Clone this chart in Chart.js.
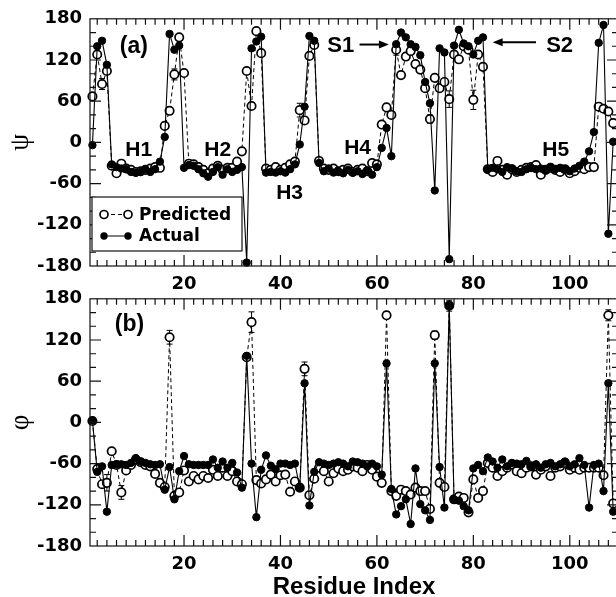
<!DOCTYPE html>
<html><head><meta charset="utf-8">
<script src="https://cdn.jsdelivr.net/npm/chart.js@4.4.0/dist/chart.umd.min.js"></script>
<style>
html,body{margin:0;padding:0;background:#fff;overflow:hidden;width:616px;height:597px;position:relative;}
canvas{position:absolute;left:0;}
#ca{top:0;}
#cb{top:280px;}
</style></head><body>
<canvas id="ca" width="640" height="300"></canvas>
<canvas id="cb" width="640" height="330"></canvas>
<script>
const residues = [1,2,3,4,5,6,7,8,9,10,11,12,13,14,15,16,17,18,19,20,
 21,22,23,24,25,26,27,28,29,30,31,32,33,34,35,36,37,38,39,40,
 41,42,43,44,45,46,47,48,49,50,51,52,53,54,55,56,57,58,59,60,
 61,62,63,64,65,66,67,68,69,70,71,72,73,74,75,76,77,78,79,80,
 81,82,83,84,85,86,87,88,89,90,91,92,93,94,95,96,97,98,99,100,
 101,102,103,104,105,106,107,108,109];

const psiActual = [-4,140,148,113,-32,-36,-38,-39,-43,-44,
 -43,-39,-43,-39,-28,8,158,135,141,-37,
 -33,-34,-39,-45,-50,-43,-36,-47,-39,-43,
 -40,-36,-175,137,147,154,-44,-43,-44,-42,
 -44,-39,-32,-3,52,155,148,-30,-42,-38,
 -44,-42,-45,-40,-44,-42,-46,-41,-47,-36,
 -8,21,-20,143,160,153,143,139,127,88,
 57,-70,137,131,-170,141,164,144,140,128,
 148,153,-39,-37,-39,-43,-36,-38,-42,-43,
 -39,-37,-39,-38,-40,-36,-39,-37,-39,-42,
 -38,-34,-28,-13,15,145,171,-133,1];

const psiPredicted = [67,128,85,104,-34,-45,-31,-38,-40,-43,
 -42,-40,-38,-36,-37,24,46,99,153,101,
 -31,-32,-36,-40,-45,-38,-34,-40,-37,-37,
 -28,-13,104,53,162,130,-38,-40,-36,-40,
 -37,-32,-28,47,32,126,142,-27,-38,-40,
 -38,-42,-40,-38,-43,-40,-38,-42,-30,-32,
 26,51,40,135,98,125,133,114,106,79,
 34,94,79,88,63,128,121,140,135,62,
 128,110,-39,-43,-27,-40,-47,-39,-43,-40,
 -37,-36,-33,-47,-40,-37,-40,-43,-39,-45,
 -42,-37,-39,-36,-36,52,49,45,28];

const phiActual = [3,-72,-64,-130,-62,-61,-61,-62,-59,-52,
 -57,-59,-61,-62,-61,-98,-65,-112,-71,-49,
 -61,-62,-62,-62,-62,-54,-66,-57,-66,-59,
 -73,-95,97,-60,-138,-69,-48,-63,-68,-60,
 -60,-62,-60,-95,57,-121,-72,-58,-60,-62,
 -60,-58,-60,-64,-57,-58,-60,-64,-60,-64,
 -76,86,-97,-134,-122,-112,-148,-67,-119,-128,
 -142,86,-65,-124,170,-112,-114,-122,-128,-67,
 -62,-71,-51,-57,-66,-54,-64,-59,-60,-61,
 -56,-64,-61,-66,-61,-59,-64,-61,-57,-64,
 -61,-52,-62,-124,-62,-60,-100,57,-130];

const phiPredicted = [2,-68,-90,-88,-42,-62,-102,-70,-62,-54,
 -58,-62,-64,-75,-88,-94,124,-107,-102,-70,
 -86,-78,-83,-78,-81,-69,-78,-66,-78,-71,
 -86,-90,95,146,-84,-89,-83,-76,-86,-77,
 -76,-101,-86,-95,78,-106,-82,-66,-71,-86,
 -74,-67,-71,-69,-64,-66,-71,-62,-69,-79,
 -88,156,-100,-107,-98,-100,-105,-95,-100,-100,
 -126,127,-88,-94,170,-112,-108,-110,-131,-83,
 -110,-100,-59,-66,-78,-71,-66,-61,-71,-74,
 -66,-64,-76,-69,-64,-78,-66,-64,-59,-69,
 -66,-69,-66,-66,-66,-66,-77,156,-118];

// error bars on predicted values (residue, +/- size)
const psiErrResidues = [3,18,44,64,71,75,80];
const psiErrors      = [8,8,10,8,6,12,14];
const phiErrResidues = [2,4,7,17,34,45,62,72,75,108];
const phiErrors      = [8,12,10,10,15,10,5,6,8,8];

const xTickLabels = [20,40,60,80,100];
const yTickLabels = [-180,-120,-60,0,60,120,180];

const psiNotes = [
  {text:'(a)', x:9.6, y:140, size:23},
  {text:'H1', x:10.6, y:-11, size:21},
  {text:'H2', x:27, y:-11, size:21},
  {text:'H3', x:41.9, y:-74, size:21},
  {text:'H4', x:56, y:-9, size:21},
  {text:'H5', x:97.1, y:-12, size:21},
  {text:'S1', x:52.5, y:140, size:22},
  {text:'S2', x:97.9, y:140, size:22}
];
const psiArrows = [{x1:56.4, x2:62.5, y:142.5},{x1:93, x2:84, y:146}];
const phiNotes = [{text:'(b)', x:8.7, y:143, size:23}];

function makeDecor(cfg){
  return {
    id:'decor'+cfg.name,
    beforeDatasetsDraw(chart){
      const {ctx, scales:{x,y}} = chart;
      ctx.save(); ctx.strokeStyle='#000'; ctx.lineWidth=1;
      cfg.errRes.forEach((r,i)=>{
        const v = cfg.pred[residues.indexOf(r)], e = cfg.err[i];
        const px = x.getPixelForValue(r), y1 = y.getPixelForValue(v+e), y2 = y.getPixelForValue(v-e);
        ctx.beginPath();
        ctx.moveTo(px,y1); ctx.lineTo(px,y2);
        ctx.moveTo(px-3,y1); ctx.lineTo(px+3,y1);
        ctx.moveTo(px-3,y2); ctx.lineTo(px+3,y2);
        ctx.stroke();
      });
      ctx.restore();
    },
    afterDatasetsDraw(chart){
      const {ctx, chartArea:a, scales:{x,y}} = chart;
      ctx.save();
      ctx.strokeStyle='#111'; ctx.lineWidth=1.2;
      ctx.strokeRect(a.left, a.top, a.right-a.left, a.bottom-a.top);
      ctx.beginPath();
      for (let v=2; v<110; v+=2){
        const px = x.getPixelForValue(v); const L = v%20===0 ? 11 : 6;
        ctx.moveTo(px,a.bottom); ctx.lineTo(px,a.bottom-L);
        ctx.moveTo(px,a.top); ctx.lineTo(px,a.top+L);
      }
      for (let v=-160; v<=160; v+=20){
        const py = y.getPixelForValue(v); const L = v%60===0 ? 11 : 6;
        ctx.moveTo(a.left,py); ctx.lineTo(a.left+L,py);
        ctx.moveTo(a.right,py); ctx.lineTo(a.right-L,py);
      }
      ctx.stroke();
      ctx.fillStyle='#000'; ctx.textAlign='center'; ctx.textBaseline='middle';
      cfg.notes.forEach(n=>{
        ctx.font = 'bold '+n.size+'px "Liberation Sans", Arial, sans-serif';
        ctx.fillText(n.text, x.getPixelForValue(n.x), y.getPixelForValue(n.y));
      });
      (cfg.arrows||[]).forEach(ar=>{
        const x1 = x.getPixelForValue(ar.x1), x2 = x.getPixelForValue(ar.x2), py = y.getPixelForValue(ar.y);
        const dir = Math.sign(x2-x1);
        ctx.lineWidth=2; ctx.strokeStyle='#000';
        ctx.beginPath(); ctx.moveTo(x1,py); ctx.lineTo(x2-dir*8,py); ctx.stroke();
        ctx.beginPath(); ctx.moveTo(x2,py); ctx.lineTo(x2-dir*10,py-4); ctx.lineTo(x2-dir*10,py+4); ctx.closePath(); ctx.fill();
      });
      if (cfg.legend){
        const L = a.left+2, T = a.bottom-69, W = 150, H = 54;
        ctx.fillStyle='#fff'; ctx.fillRect(L,T,W,H);
        ctx.strokeStyle='#111'; ctx.lineWidth=1.2; ctx.strokeRect(L,T,W,H);
        const r1 = T+17.5, r2 = T+39;
        ctx.lineWidth=1; ctx.strokeStyle='#000';
        ctx.setLineDash([4,3]); ctx.beginPath(); ctx.moveTo(L+12,r1); ctx.lineTo(L+36,r1); ctx.stroke();
        ctx.setLineDash([]);
        [L+12,L+36].forEach(cx=>{ ctx.beginPath(); ctx.arc(cx,r1,4,0,Math.PI*2); ctx.fillStyle='#fff'; ctx.fill(); ctx.lineWidth=1.7; ctx.stroke(); });
        ctx.lineWidth=1; ctx.beginPath(); ctx.moveTo(L+12,r2); ctx.lineTo(L+36,r2); ctx.stroke();
        ctx.fillStyle='#000';
        [L+12,L+36].forEach(cx=>{ ctx.beginPath(); ctx.arc(cx,r2,3.7,0,Math.PI*2); ctx.fill(); });
        ctx.font='bold 17px "DejaVu Sans", sans-serif'; ctx.textAlign='left'; ctx.textBaseline='middle';
        ctx.fillText('Predicted', L+47, r1+1);
        ctx.fillText('Actual', L+47, r2+1);
      }
      ctx.restore();
    }
  };
}

function panel(id, pred, act, opt){
  const tickFont = {family:'"DejaVu Sans", sans-serif', weight:'bold', size:18};
  return new Chart(document.getElementById(id), {
    type:'line',
    data:{ datasets:[
      {label:'Actual', data: residues.map((r,i)=>({x:r,y:act[i]})), borderColor:'#000', borderWidth:1.1,
       pointRadius:3.7, pointBackgroundColor:'#000', pointBorderColor:'#000', pointBorderWidth:1, order:1, clip:false, tension:0},
      {label:'Predicted', data: residues.map((r,i)=>({x:r,y:pred[i]})), borderColor:'#000', borderWidth:1, borderDash:[4,3],
       pointRadius:4.2, pointBackgroundColor:'#fff', pointBorderColor:'#000', pointBorderWidth:1.7, order:2, clip:false, tension:0}
    ]},
    options:{
      responsive:false, animation:false, events:[],
      layout:{padding:{top:opt.top, right:22, left:0, bottom:0}},
      plugins:{legend:{display:false}, tooltip:{enabled:false}},
      scales:{
        x:{type:'linear', min:0.5, max:110,
           afterBuildTicks: s=>{ s.ticks = xTickLabels.map(v=>({value:v})); },
           afterFit: s=>{ s.height = opt.xh; },
           grid:{display:false, drawTicks:false}, border:{display:false},
           ticks:{font:tickFont, color:'#000', padding:opt.xpad, maxRotation:0, autoSkip:false},
           title:{display:!!opt.xtitle, text:opt.xtitle||'', color:'#000',
                  font:{family:'"Liberation Sans", Arial, sans-serif', weight:'bold', size:24}, padding:{top:0,bottom:8}}},
        y:{type:'linear', min:-180, max:180,
           afterBuildTicks: s=>{ s.ticks = yTickLabels.map(v=>({value:v})); },
           afterFit: s=>{ s.width = 90; },
           grid:{display:false, drawTicks:false}, border:{display:false},
           ticks:{font:tickFont, color:'#000', padding:8},
           title:{display:true, text:opt.ytitle, color:'#000',
                  font:{family:'"Liberation Serif", serif', size:27}, padding:{top:5,bottom:0}}}
      }
    },
    plugins:[makeDecor(opt.decor)]
  });
}

panel('ca', psiPredicted, psiActual, {top:16, xh:34, xpad:8, ytitle:'ψ',
  decor:{name:'a', pred:psiPredicted, errRes:psiErrResidues, err:psiErrors, notes:psiNotes, arrows:psiArrows, legend:true}});
panel('cb', phiPredicted, phiActual, {top:17, xh:64, xpad:8, ytitle:'φ', xtitle:'Residue Index',
  decor:{name:'b', pred:phiPredicted, errRes:phiErrResidues, err:phiErrors, notes:phiNotes, arrows:[], legend:false}});
</script>
</body></html>
